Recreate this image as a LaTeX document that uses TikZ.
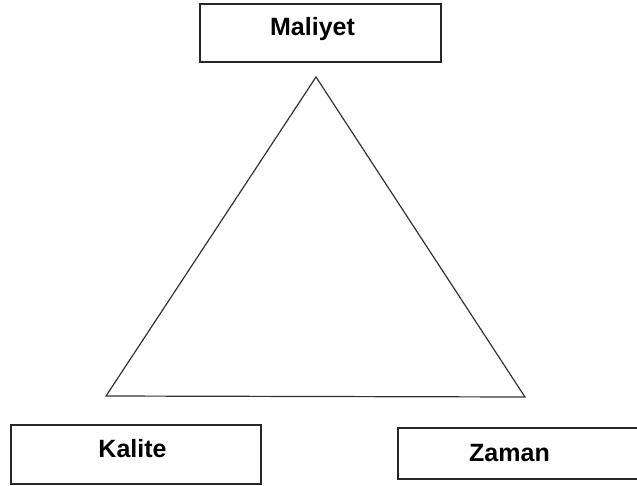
\documentclass[tikz,border=0pt]{standalone}
\usepackage{fontspec}
\setmainfont{Liberation Sans}
\usetikzlibrary{positioning}
\tikzset{
    corner/.style = {rectangle, draw=black!85, line width=1.6pt, fill=white},
    tag/.style = {font=\fontsize{25}{28}\selectfont\bfseries, text height=18pt, text depth=0pt, inner sep=0pt},
    side/.style = {draw=black!80, line width=1.2pt, line join=miter}
}
\begin{document}
\begin{tikzpicture}[x=1pt, y=-1pt]
    \useasboundingbox (0,0) rectangle (637,485);

    % Boxes
    \node [corner, minimum width=241pt, minimum height=58pt,
           label={[tag, xshift=-8pt, yshift=7pt]center:Maliyet}] (cost) at (320.5,33) {};
    \node [corner, minimum width=250pt, minimum height=59pt,
           label={[tag, xshift=-3.5pt, yshift=6pt]center:Kalite}] (quality) at (136,454.5) {};
    \node [corner, minimum width=242pt, minimum height=51pt,
           label={[tag, xshift=-9.5pt, yshift=1.5pt]center:Zaman}] (time) at (519,453.5) {};

    % Triangle
    \coordinate (top) at (316,77);
    \coordinate (left) at (106,396);
    \coordinate (right) at (525,397);
    \draw [side] (top) -- (right) -- (left) -- cycle;
\end{tikzpicture}
\end{document}
